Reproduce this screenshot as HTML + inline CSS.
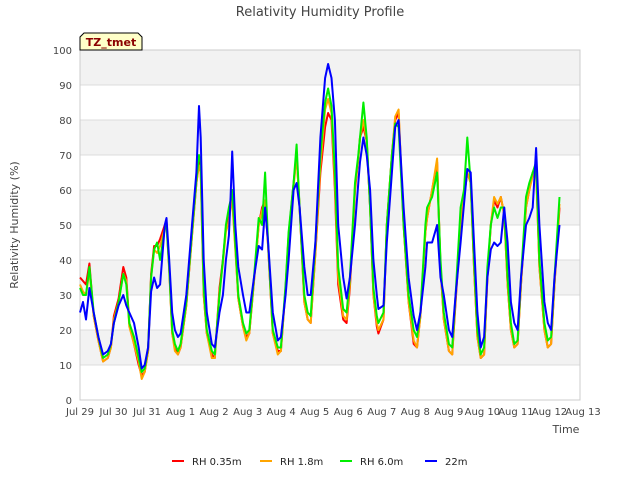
<!DOCTYPE html>
<html><head><meta charset="utf-8"><style>
body{margin:0;background:#fff;font-family:"Liberation Sans","DejaVu Sans",sans-serif}
svg text{font-family:"DejaVu Sans","Liberation Sans",sans-serif}
</style></head><body>
<svg id="chart" width="640" height="480" viewBox="0 0 640 480">
<rect width="640" height="480" fill="#fff"/>
<g id="bands"></g><g id="grid"></g>
<rect x="80" y="50" width="500" height="350" fill="none" stroke="#ccc"/>
<g id="ticks"></g><g id="series"></g>
<text x="320" y="16" text-anchor="middle" font-size="13" fill="#444">Relativity Humidity Profile</text>
<text x="566" y="433" text-anchor="middle" font-size="11" fill="#444">Time</text>
<text transform="translate(18,225) rotate(-90)" text-anchor="middle" font-size="11" fill="#444">Relativity Humidity (%)</text>
<g><path d="M80,50 L80,37 L84,33 L138,33 L142,37 L142,50 Z" fill="#ffffc8" stroke="#000" stroke-width="1"/>
<text x="111" y="46" text-anchor="middle" font-size="11" font-weight="bold" fill="#8b0000">TZ_tmet</text></g>
<g id="legend"></g>
</svg>
<script>
const times=[0,0.09,0.18,0.28,0.41,0.55,0.69,0.83,0.92,1.01,1.15,1.29,1.38,1.47,1.61,1.75,1.84,1.93,2.03,2.12,2.21,2.30,2.39,2.53,2.58,2.66,2.75,2.83,2.92,3.00,3.17,3.34,3.47,3.55,3.60,3.69,3.78,3.93,4.02,4.16,4.26,4.35,4.44,4.49,4.54,4.63,4.72,4.86,4.96,5.05,5.19,5.33,5.43,5.52,5.61,5.75,5.90,5.99,6.13,6.22,6.37,6.46,6.55,6.69,6.79,6.88,7.02,7.17,7.31,7.40,7.50,7.60,7.70,7.85,7.95,8.05,8.20,8.30,8.35,8.45,8.55,8.65,8.75,8.85,8.90,9.05,9.15,9.30,9.40,9.50,9.65,9.80,9.95,10.05,10.15,10.30,10.35,10.50,10.65,10.75,10.85,11.00,11.10,11.20,11.35,11.45,11.55,11.65,11.75,11.85,11.95,12.05,12.15,12.25,12.35,12.45,12.55,12.65,12.75,12.85,12.95,13.05,13.15,13.30,13.40,13.50,13.60,13.70,13.85,13.95,14.05,14.15,14.30];
const rh22=[25,28,23,32,25,18,13,14,16,22,27,30,27,25,22,15,9,10,15,31,35,32,33,50,52,40,25,20,18,19,30,50,65,84,75,40,25,16,15,25,30,40,47,58,71,50,38,30,25,25,35,44,43,55,45,25,17,18,30,40,60,62,55,38,30,30,45,75,92,96,92,80,50,35,29,35,50,62,68,75,70,60,40,30,26,27,45,65,78,80,55,35,24,20,25,38,45,45,50,35,30,20,18,30,45,56,66,65,45,25,15,18,35,43,45,44,45,55,45,28,22,20,35,50,52,55,72,50,28,22,20,35,50];
const rh60=[32,30,30,38,25,18,12,13,16,22,28,36,33,22,18,12,8,9,15,35,43,45,40,49,50,38,20,16,14,16,28,48,63,70,68,32,20,14,13,30,40,50,55,57,60,45,30,22,19,20,35,52,50,65,45,20,15,15,33,48,62,73,55,30,25,24,45,70,85,89,84,65,38,26,25,35,62,70,75,85,75,55,32,24,22,25,50,70,79,78,50,30,20,18,25,50,55,58,65,40,25,16,15,30,55,60,75,62,40,20,13,15,38,50,55,52,55,55,35,22,16,17,35,58,62,65,68,40,22,17,18,35,58];
const rh18=[33,31,30,37,24,17,11,12,15,23,28,36,34,21,16,11,6,8,14,35,43,42,44,49,50,37,19,14,13,15,27,47,62,67,65,30,19,12,12,31,39,48,51,55,57,43,29,21,17,19,34,50,54,57,44,19,13,14,32,47,61,70,55,28,23,22,42,67,83,86,82,62,35,24,23,33,61,69,75,80,74,55,30,22,20,23,50,70,81,83,50,28,17,15,24,48,52,60,69,38,23,14,13,29,50,58,65,62,38,18,12,13,35,50,58,56,58,53,33,20,15,16,33,55,60,64,66,38,20,15,16,33,56];
const rh035=[35,34,33,39,24,17,11,12,15,24,29,38,35,22,16,10,7,8,14,36,44,44,46,50,51,38,19,15,13,15,27,47,62,68,66,30,19,13,12,32,40,49,52,56,58,44,29,21,18,19,34,50,55,57,44,19,14,14,32,47,62,70,55,28,23,22,42,65,78,82,80,60,33,23,22,32,60,69,75,78,74,55,30,21,19,23,50,70,80,82,50,28,16,15,24,48,52,60,68,38,23,14,13,28,50,58,65,62,38,18,12,13,35,50,57,55,58,53,33,20,15,16,33,55,60,65,66,38,20,15,16,33,55];
const dayLabels=["Jul 29","Jul 30","Jul 31","Aug 1","Aug 2","Aug 3","Aug 4","Aug 5","Aug 6","Aug 7","Aug 8","Aug 9","Aug 10","Aug 11","Aug 12","Aug 13"];
const yTicks=[0,10,20,30,40,50,60,70,80,90,100];
const seriesNames=["RH 0.35m","RH 1.8m","RH 6.0m","22m"];
const seriesColors=["#ff0000","#ffa500","#00ee00","#0000ff"];
const NS="http://www.w3.org/2000/svg";
const X0=80,X1=580,Y0=400,Y1=50,DAYSPAN=15;
const xs=d=>X0+(d/DAYSPAN)*(X1-X0+3);
const ys=v=>Y0-(v/100)*(Y0-Y1);
function mk(tag,attrs,parent){const e=document.createElementNS(NS,tag);for(const k in attrs)e.setAttribute(k,attrs[k]);parent.appendChild(e);return e;}
const bands=document.getElementById('bands'),grid=document.getElementById('grid'),ticks=document.getElementById('ticks');
for(let b=10;b<100;b+=20){const r=mk('rect',{x:X0,y:ys(b+10),width:X1-X0,height:ys(b)-ys(b+10),fill:'#f2f2f2'},bands);

}
yTicks.forEach(v=>{const l=mk('line',{x1:X0,x2:X1,y1:ys(v),y2:ys(v),stroke:'#dcdcdc'},grid);


const t=mk('text',{x:72,y:ys(v)+4,'text-anchor':'end','font-size':10,fill:'#444'},ticks);t.textContent=v;

});
dayLabels.forEach((s,i)=>{const t=mk('text',{x:xs(i),y:415,'text-anchor':'middle','font-size':10,fill:'#444'},ticks);t.textContent=s;

});
const sg=document.getElementById('series');
[rh035,rh18,rh60,rh22].forEach((arr,k)=>{const p=mk('polyline',{points:arr.map((v,i)=>xs(times[i]).toFixed(1)+','+ys(v).toFixed(1)).join(' '),fill:'none',stroke:seriesColors[k],'stroke-width':2,'stroke-linejoin':'round'},sg);

});
const lg=document.getElementById('legend');const lx=[172,260,340,425];
seriesNames.forEach((n,k)=>{const g=mk('g',{},lg);


mk('line',{x1:lx[k],x2:lx[k]+12,y1:461,y2:461,stroke:seriesColors[k],'stroke-width':2},g);
const t=mk('text',{x:lx[k]+20,y:465,'font-size':10,fill:'#222'},g);t.textContent=n;});
</script>
</body></html>
